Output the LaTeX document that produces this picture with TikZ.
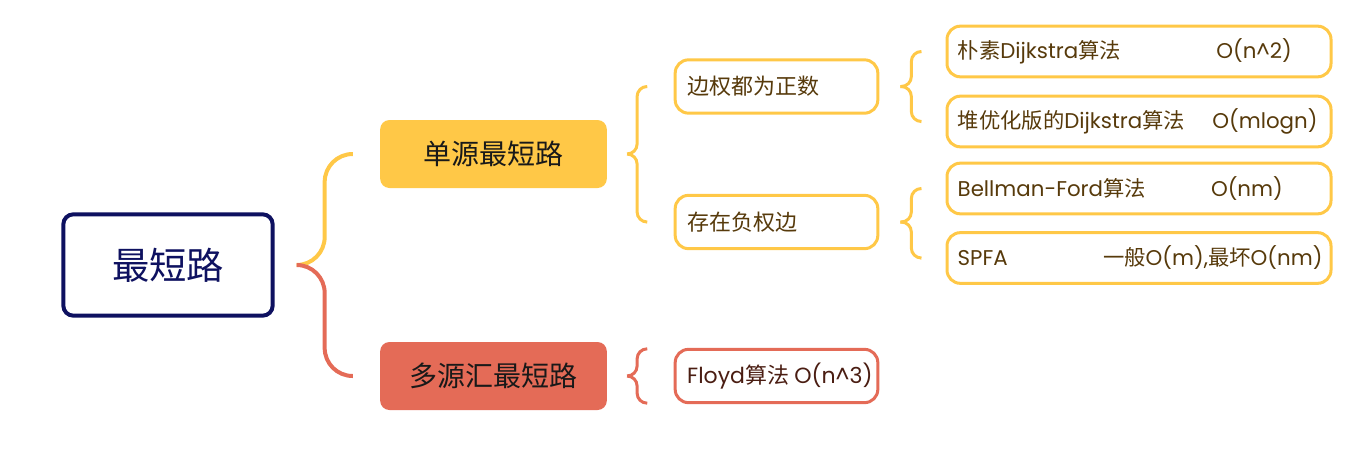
\documentclass[tikz,border=0pt]{standalone}
\usepackage{fontspec}
\setmainfont{Poppins}
\newfontfamily\cjk{Noto Sans CJK SC}
\newcommand{\zhtext}[1]{{\cjk #1}}
\usetikzlibrary{positioning,calc}

\begin{document}
\begin{tikzpicture}[
    x=0.75pt, y=-0.75pt,
    root/.style={
        rectangle,
        draw=rootcolor,
        line width=3pt,
        rounded corners=7.5pt,
        minimum width=157pt,
        minimum height=76pt,
        text=rootcolor,
        font=\cjk\fontsize{28}{32}\selectfont
    },
    mainbox/.style={
        rectangle,
        rounded corners=7pt,
        minimum width=170pt,
        minimum height=51pt,
        text=black!90,
        font=\cjk\fontsize{21}{25}\selectfont
    },
    subbox/.style={
        rectangle,
        fill=white,
        line width=2.25pt,
        rounded corners=10pt,
        text width=134pt,
        inner xsep=9pt,
        minimum height=40pt,
        align=left,
        font=\fontsize{16.5}{20}\selectfont
    },
    leaf/.style={
        rectangle,
        draw=yellowc,
        line width=2.25pt,
        rounded corners=10pt,
        text width=272pt,
        inner xsep=8pt,
        minimum height=38pt,
        align=left,
        text=browntext,
        font=\fontsize{16}{20}\selectfont
    },
    link/.style={
        line width=3pt,
        rounded corners=21pt
    },
    brace/.style={
        line width=2.25pt,
        rounded corners=7.5pt
    }
]

% Color Palette
\definecolor{rootcolor}{HTML}{0E1160}
\definecolor{yellowc}{HTML}{FFC847}
\definecolor{redc}{HTML}{E46B57}
\definecolor{browntext}{HTML}{573A0B}
\definecolor{redtext}{HTML}{4A1D12}

\useasboundingbox (0,0) rectangle (1366,457);

% Root
\node[root] (root) at (168,265) {最短路};

% Level 1
\node[mainbox, fill=yellowc] (single) at (493.5,154) {单源最短路};
\node[mainbox, fill=redc] (multi) at (493.5,376) {多源汇最短路};

% Level 2
\node[subbox, draw=yellowc, text=browntext] (pos) at (776.5,86.5) {\zhtext{边权都为正数}};
\node[subbox, draw=yellowc, text=browntext] (neg) at (776.5,222) {\zhtext{存在负权边}};
\node[subbox, draw=redc, text=redtext] (floyd) at (776.5,376) {\mbox{Floyd\zhtext{算法}\hspace{4pt}O(n\textasciicircum 3)}};

% Level 3
\node[leaf] (dij) at (1139,51.5) {\makebox[194pt][l]{\zhtext{朴素}Dijkstra\zhtext{算法}}O(n\textasciicircum 2)};
\node[leaf] (heap) at (1139,121.5) {\makebox[191pt][l]{\zhtext{堆优化版的}Dijkstra\zhtext{算法}}O(mlogn)};
\node[leaf] (bf) at (1139,188.5) {\makebox[190pt][l]{Bellman-Ford\zhtext{算法}}O(nm)};
\node[leaf] (spfa) at (1139,258) {\makebox[109pt][l]{SPFA}\zhtext{一般}O(m),\zhtext{最坏}O(nm)};

% Connectors
\coordinate (rootTip) at ($(root.east)+(22,0)$);
\draw[link, yellowc] (rootTip) -- ++(28,0) |- ($(single.west)+(-27,0)$);
\draw[link, redc] (rootTip) -- ++(28,0) |- ($(multi.west)+(-27,0)$);

\coordinate (singleTip) at ($(single.east)+(20,0)$);
\draw[brace, yellowc] (singleTip) -- ++(10,0) |- ($(pos.west)+(-27,0)$);
\draw[brace, yellowc] (singleTip) -- ++(10,0) |- ($(neg.west)+(-27,0)$);

\coordinate (multiTip) at ($(multi.east)+(20,0)$);
\draw[brace, redc] (multiTip) -- ++(10,0) |- ($(floyd.north west)+(-27,1)$);
\draw[brace, redc] (multiTip) -- ++(10,0) |- ($(floyd.south west)+(-27,-1)$);

\coordinate (posTip) at ($(pos.east)+(21,0)$);
\draw[brace, yellowc] (posTip) -- ++(11,0) |- ($(dij.west)+(-25,0)$);
\draw[brace, yellowc] (posTip) -- ++(11,0) |- ($(heap.west)+(-25,0)$);

\coordinate (negTip) at ($(neg.east)+(21,0)$);
\draw[brace, yellowc] (negTip) -- ++(11,0) |- ($(bf.west)+(-25,0)$);
\draw[brace, yellowc] (negTip) -- ++(11,0) |- ($(spfa.west)+(-25,0)$);

\end{tikzpicture}
\end{document}
